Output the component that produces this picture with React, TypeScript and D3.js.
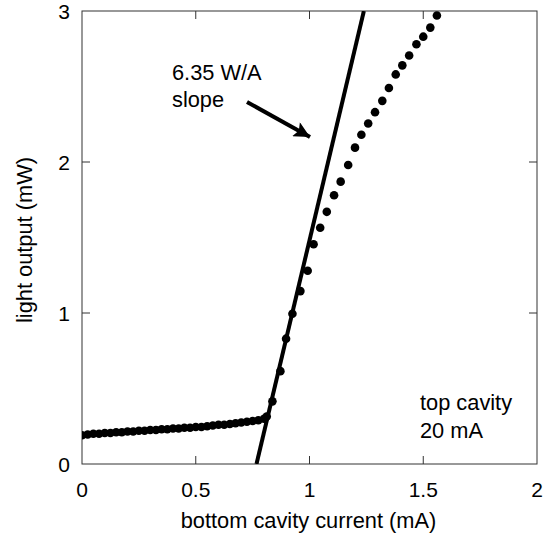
import React, { useEffect, useRef } from 'react';
import * as d3 from 'd3';

// measured points: bottom cavity current (mA) vs light output (mW)
const currentMA = [
  0.0, 0.025, 0.05, 0.075, 0.1, 0.125, 0.15, 0.175, 0.2, 0.225, 0.25, 0.275,
  0.3, 0.325, 0.35, 0.375, 0.4, 0.425, 0.45, 0.475, 0.5, 0.525, 0.55, 0.575,
  0.6, 0.625, 0.65, 0.675, 0.7, 0.725, 0.75, 0.775, 0.8,
  0.812, 0.837, 0.872, 0.897, 0.925, 0.96, 0.992, 1.018, 1.047, 1.076, 1.108,
  1.137, 1.17, 1.2, 1.228, 1.258, 1.288, 1.32, 1.349, 1.379, 1.408, 1.438,
  1.47, 1.5, 1.531, 1.56
];
const lightMW = [
  0.19, 0.195, 0.2, 0.2, 0.205, 0.205, 0.21, 0.21, 0.215, 0.215, 0.22, 0.22,
  0.225, 0.225, 0.23, 0.23, 0.235, 0.235, 0.24, 0.24, 0.245, 0.245, 0.25, 0.255,
  0.26, 0.26, 0.265, 0.27, 0.275, 0.28, 0.285, 0.29, 0.3,
  0.315, 0.415, 0.615, 0.83, 0.995, 1.145, 1.28, 1.455, 1.565, 1.67, 1.78,
  1.87, 1.98, 2.095, 2.18, 2.255, 2.33, 2.405, 2.49, 2.58, 2.64, 2.705,
  2.78, 2.83, 2.89, 2.97
];

// linear fit above threshold (6.35 W/A slope)
const fitCurrent = [0.767, 1.239];
const fitLight = [0, 3];

const xTicks = [0, 0.5, 1, 1.5, 2];
const yTicks = [0, 1, 2, 3];

const FONT = '"Liberation Sans", Arial, sans-serif';

const App = () => {
  const svgRef = useRef<SVGSVGElement>(null);

  useEffect(() => {
    const width = 554;
    const height = 537;
    const margin = { top: 11, right: 17, bottom: 73, left: 82 };
    const innerWidth = width - margin.left - margin.right;
    const innerHeight = height - margin.top - margin.bottom;

    const root = d3.select(svgRef.current);
    root.selectAll('*').remove();
    root.attr('width', width).attr('height', height);

    const svg = root.append('g')
      .attr('transform', `translate(${margin.left},${margin.top})`);

    const x = d3.scaleLinear().domain([0, 2]).range([0, innerWidth]);
    const y = d3.scaleLinear().domain([0, 3]).range([innerHeight, 0]);

    // clip for data marks
    svg.append('defs').append('clipPath').attr('id', 'plot-clip')
      .append('rect').attr('width', innerWidth).attr('height', innerHeight);

    // inner ticks on all four sides
    const tickLen = 8;
    const inner = xTicks.filter(d => d > 0 && d < 2);
    const innerY = yTicks.filter(d => d > 0 && d < 3);
    const tickColor = '#333';

    inner.forEach(d => {
      svg.append('line')
        .attr('x1', x(d)).attr('x2', x(d))
        .attr('y1', innerHeight).attr('y2', innerHeight - tickLen)
        .attr('stroke', tickColor);
      svg.append('line')
        .attr('x1', x(d)).attr('x2', x(d))
        .attr('y1', 0).attr('y2', tickLen)
        .attr('stroke', tickColor);
    });
    innerY.forEach(d => {
      svg.append('line')
        .attr('x1', 0).attr('x2', tickLen)
        .attr('y1', y(d)).attr('y2', y(d))
        .attr('stroke', tickColor);
      svg.append('line')
        .attr('x1', innerWidth).attr('x2', innerWidth - tickLen)
        .attr('y1', y(d)).attr('y2', y(d))
        .attr('stroke', tickColor);
    });

    // frame
    svg.append('rect')
      .attr('x', 0).attr('y', 0)
      .attr('width', innerWidth).attr('height', innerHeight)
      .attr('fill', 'none')
      .attr('stroke', tickColor)
      .attr('stroke-width', 1);

    // tick labels
    svg.append('g').selectAll('text')
      .data(xTicks).enter().append('text')
      .attr('x', d => x(d))
      .attr('y', innerHeight + 33)
      .attr('text-anchor', 'middle')
      .style('font-family', FONT)
      .style('font-size', '21px')
      .text(d => d3.format('~g')(d));

    svg.append('g').selectAll('text')
      .data(yTicks).enter().append('text')
      .attr('x', -12)
      .attr('y', d => y(d))
      .attr('dy', '0.36em')
      .attr('text-anchor', 'end')
      .style('font-family', FONT)
      .style('font-size', '21px')
      .text(d => String(d));

    // axis titles
    svg.append('text')
      .attr('x', innerWidth / 2 - 1)
      .attr('y', innerHeight + 64)
      .attr('text-anchor', 'middle')
      .style('font-family', FONT)
      .style('font-size', '21.8px')
      .text('bottom cavity current (mA)');

    svg.append('text')
      .attr('transform', `translate(${-50},${229}) rotate(-90)`)
      .attr('text-anchor', 'middle')
      .style('font-family', FONT)
      .style('font-size', '21.8px')
      .text('light output (mW)');

    const plot = svg.append('g').attr('clip-path', 'url(#plot-clip)');

    // fit line
    const fit = fitCurrent.map((c, i) => [c, fitLight[i]] as [number, number]);
    plot.append('path')
      .datum(fit)
      .attr('d', d3.line<[number, number]>().x(d => x(d[0])).y(d => y(d[1])))
      .attr('stroke', '#000')
      .attr('stroke-width', 4)
      .attr('fill', 'none');

    // data points
    plot.append('g').selectAll('circle')
      .data(currentMA.map((c, i) => [c, lightMW[i]]))
      .enter().append('circle')
      .attr('cx', d => x(d[0]))
      .attr('cy', d => y(d[1]))
      .attr('r', 4.3)
      .attr('fill', '#000');

    // annotation
    svg.append('text')
      .attr('x', 90).attr('y', 69)
      .style('font-family', FONT)
      .style('font-size', '21.8px')
      .text('6.35 W/A');
    svg.append('text')
      .attr('x', 90).attr('y', 96)
      .style('font-family', FONT)
      .style('font-size', '21.8px')
      .text('slope');

    svg.append('defs').append('marker')
      .attr('id', 'arrow-head')
      .attr('viewBox', '0 0 10 10')
      .attr('refX', 10).attr('refY', 5)
      .attr('markerWidth', 5).attr('markerHeight', 4)
      .attr('markerUnits', 'strokeWidth')
      .attr('orient', 'auto')
      .append('path')
      .attr('d', 'M0,0 L10,5 L0,10 L2,5 Z')
      .attr('fill', '#000');

    svg.append('line')
      .attr('x1', 165).attr('y1', 91)
      .attr('x2', 228).attr('y2', 126)
      .attr('stroke', '#000')
      .attr('stroke-width', 4)
      .attr('marker-end', 'url(#arrow-head)');

    svg.append('text')
      .attr('x', 338).attr('y', 399)
      .style('font-family', FONT)
      .style('font-size', '21.8px')
      .text('top cavity');
    svg.append('text')
      .attr('x', 338).attr('y', 427)
      .style('font-family', FONT)
      .style('font-size', '21.8px')
      .text('20 mA');
  }, []);

  return (
    <div style={{ position: 'absolute', left: 0, top: 0, background: '#fff' }}>
      <svg ref={svgRef} style={{ display: 'block' }}></svg>
    </div>
  );
};

export default App;
